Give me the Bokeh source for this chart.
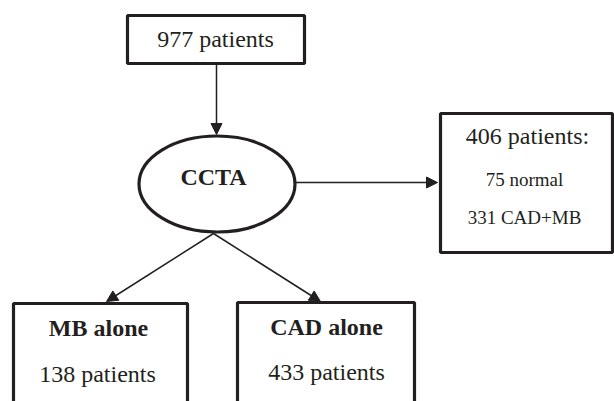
from bokeh.plotting import figure
from bokeh.models import Range1d, Arrow, NormalHead
from bokeh.core.properties import value
from bokeh.embed import file_html
from bokeh.resources import INLINE

# ---- data (flowchart contents) ----
total_label = ["977 patients"]
ccta_label = ["CCTA"]
side_title = ["406 patients:"]
side_items = ["75 normal", "331 CAD+MB"]
branch_titles = ["MB alone", "CAD alone"]
branch_counts = ["138 patients", "433 patients"]

# ---- layout (reference pixel coordinates, y downward) ----
INK = "#231f20"
FONT = value("Liberation Serif")

p = figure(width=614, height=401, output_backend="svg", toolbar_location=None,
           x_range=Range1d(0, 614), y_range=Range1d(401, 0),
           min_border=0, outline_line_color=None)
p.axis.visible = False
p.grid.visible = False
p.background_fill_color = "white"
p.border_fill_color = "white"

# boxes
box_left = [127, 440, 13, 237]
box_right = [304, 612, 187, 414]
box_top = [15, 113, 303, 302]
box_bottom = [63, 252, 430, 430]
p.quad(left=box_left, right=box_right, top=box_top, bottom=box_bottom,
       fill_color="white", line_color=INK, line_width=3.2)

# ellipse
p.ellipse(x=[216.5], y=[183.5], width=[156], height=[96],
          fill_color="white", line_color=INK, line_width=3.2)

# arrows
arrows = [((216, 64), (216, 134)),
          ((295, 182), (437, 182)),
          ((213, 233), (106, 301)),
          ((213, 233), (320, 301))]
for (xs, ys), (xe, ye) in arrows:
    p.add_layout(Arrow(end=NormalHead(size=11, fill_color=INK, line_color=INK, line_width=1),
                       x_start=xs, y_start=ys, x_end=xe, y_end=ye,
                       line_color=INK, line_width=1.5))

def txt(x, y, labels, size, bold=False):
    p.text(x=x, y=y, text=labels, text_font=FONT, text_font_size=size,
           text_font_style="bold" if bold else "normal",
           text_align="center", text_baseline="middle", text_color=INK)

txt([215], [38], total_label, "24px")
txt([213], [176], ccta_label, "24px", bold=True)
txt([527], [135], side_title, "24px")
txt([524, 524], [179, 217], side_items, "19px")
txt([98, 326], [327, 326], branch_titles, "24px", bold=True)
txt([97, 326], [373, 371], branch_counts, "24px")

open("out.html", "w").write(file_html(p, INLINE))
